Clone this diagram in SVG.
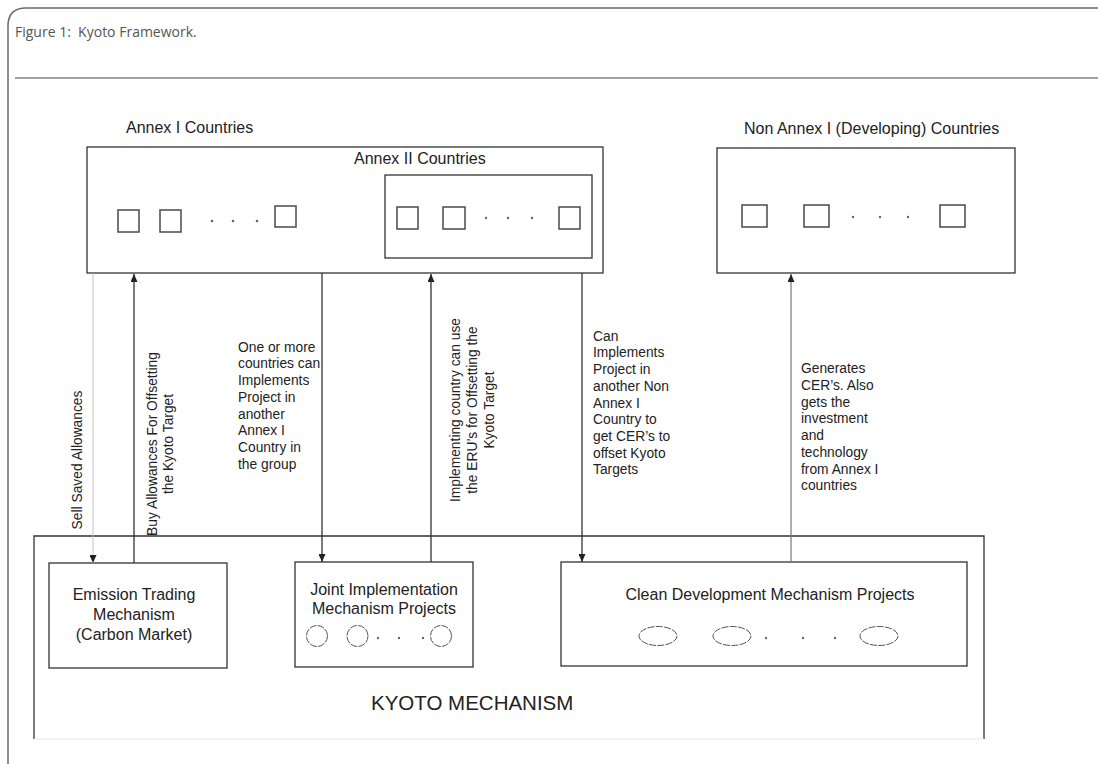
<svg xmlns="http://www.w3.org/2000/svg" width="1098" height="764" viewBox="0 0 1098 764">
  <style>
    .frame { fill: none; stroke: #6a6a6a; stroke-width: 1.5; }
    .rule { stroke: #444; stroke-width: 1.2; }
    .caption { font-family: "Open Sans", "Liberation Sans", sans-serif; font-size: 14px; fill: #555; }
    .box { fill: #fff; stroke: #333; stroke-width: 1.3; }
    .sq { fill: #fff; stroke: #4a4a4a; stroke-width: 1.5; }
    .proj { fill: none; stroke: #555; stroke-width: 1; stroke-dasharray: 7 1.3; }
    .dot { fill: #666; }
    .t { font-family: "Liberation Sans", Arial, sans-serif; fill: #222; }
    .hdr { font-size: 16px; }
    .lbl { font-size: 13.8px; }
    .title { font-size: 20.5px; }
    .conn { stroke: #333; stroke-width: 1.3; fill: none; }
    .faint { stroke: #c4c4c4; stroke-width: 1; }
    .soft { stroke: #777; stroke-width: 1.2; }
  </style>
  <defs>
    <marker id="arrow" viewBox="0 0 8 7" refX="8" refY="3.5" markerWidth="8" markerHeight="7" markerUnits="userSpaceOnUse" orient="auto">
      <path d="M0,0 L8,3.5 L0,7 z" fill="#222"/>
    </marker>
  </defs>

  <!-- page frame and caption -->
  <rect width="1098" height="764" fill="#fff"/>
  <path class="frame" d="M8,764 V26 Q8,8 26,8 H1098"/>
  <text class="caption" x="15" y="37" xml:space="preserve">Figure 1:  Kyoto Framework.</text>
  <line class="rule" x1="15" y1="78" x2="1098" y2="78"/>

  <!-- Kyoto mechanism container -->
  <g id="kyoto-mechanism">
    <rect x="34" y="536" width="950" height="203" fill="#fff"/>
    <path d="M34,739 V536 H984 V739" fill="none" stroke="#333" stroke-width="1.3"/>
    <line x1="34" y1="739" x2="984" y2="739" stroke="#e6e6e6" stroke-width="1.2"/>
    <text class="t title" x="371" y="710">KYOTO MECHANISM</text>
  </g>

  <!-- Annex I countries -->
  <g id="annex-1">
    <text class="t hdr" x="126" y="133">Annex I Countries</text>
    <rect class="box" x="87" y="147" width="516" height="126"/>
    <rect class="sq" x="118" y="210" width="21" height="22"/>
    <rect class="sq" x="160" y="210" width="21" height="22"/>
    <circle class="dot" cx="212" cy="221" r="1.3"/>
    <circle class="dot" cx="233" cy="221" r="1.3"/>
    <circle class="dot" cx="257" cy="221" r="1.3"/>
    <rect class="sq" x="275" y="206" width="21" height="21"/>
  </g>

  <!-- Annex II countries, nested in Annex I -->
  <g id="annex-2">
    <text class="t hdr" x="354" y="164">Annex II Countries</text>
    <rect class="box" x="385" y="175" width="207" height="83"/>
    <rect class="sq" x="397" y="207" width="21" height="22"/>
    <rect class="sq" x="443" y="207" width="22" height="22"/>
    <circle class="dot" cx="486" cy="218" r="1.2"/>
    <circle class="dot" cx="508" cy="218" r="1.2"/>
    <circle class="dot" cx="532" cy="218" r="1.2"/>
    <rect class="sq" x="559" y="207" width="21" height="22"/>
  </g>

  <!-- Non Annex I countries -->
  <g id="non-annex-1">
    <text class="t hdr" x="744" y="134">Non Annex I (Developing) Countries</text>
    <rect class="box" x="717" y="148" width="298" height="125"/>
    <rect class="sq" x="742" y="205" width="25" height="22"/>
    <rect class="sq" x="804" y="205" width="25" height="22"/>
    <circle class="dot" cx="853" cy="217" r="1.2"/>
    <circle class="dot" cx="880" cy="217" r="1.2"/>
    <circle class="dot" cx="908" cy="217" r="1.2"/>
    <rect class="sq" x="940" y="205" width="25" height="22"/>
  </g>

  <!-- Emission trading -->
  <g id="emission-trading">
    <rect class="box" x="49" y="563" width="178" height="105"/>
    <text class="t hdr" text-anchor="middle" x="134" y="599.5">Emission Trading</text>
    <text class="t hdr" text-anchor="middle" x="134" y="619.5">Mechanism</text>
    <text class="t hdr" text-anchor="middle" x="134" y="639.5">(Carbon Market)</text>
  </g>

  <!-- Joint implementation -->
  <g id="joint-implementation">
    <rect class="box" x="295" y="562" width="178" height="105"/>
    <text class="t hdr" text-anchor="middle" x="384" y="595">Joint Implementation</text>
    <text class="t hdr" text-anchor="middle" x="384" y="614">Mechanism Projects</text>
    <circle class="proj" cx="317" cy="636" r="10.5"/>
    <circle class="proj" cx="357.5" cy="636" r="10.5"/>
    <circle class="dot" cx="378" cy="638" r="1.2"/>
    <circle class="dot" cx="399" cy="638" r="1.2"/>
    <circle class="dot" cx="423" cy="638" r="1.2"/>
    <circle class="proj" cx="441" cy="636" r="10.5"/>
  </g>

  <!-- Clean development mechanism -->
  <g id="clean-development">
    <rect class="box" x="561" y="562" width="406" height="104"/>
    <text class="t hdr" text-anchor="middle" x="770" y="600">Clean Development Mechanism Projects</text>
    <ellipse class="proj" cx="658" cy="636" rx="19" ry="9.5"/>
    <ellipse class="proj" cx="732" cy="636" rx="19" ry="9.5"/>
    <circle class="dot" cx="766" cy="638" r="1.2"/>
    <circle class="dot" cx="803" cy="638" r="1.2"/>
    <circle class="dot" cx="835" cy="638" r="1.2"/>
    <ellipse class="proj" cx="879" cy="636" rx="19" ry="9.5"/>
  </g>

  <!-- connectors and their labels -->
  <g id="connectors">
    <line class="conn faint" x1="93" y1="273" x2="93" y2="563" marker-end="url(#arrow)"/>
    <line class="conn" x1="134" y1="563" x2="134" y2="274" marker-end="url(#arrow)"/>
    <line class="conn" x1="322" y1="273" x2="322" y2="562" marker-end="url(#arrow)"/>
    <line class="conn" x1="431" y1="562" x2="431" y2="274" marker-end="url(#arrow)"/>
    <line class="conn" x1="582" y1="273" x2="582" y2="562" marker-end="url(#arrow)"/>
    <line class="conn soft" x1="791" y1="562" x2="791" y2="274" marker-end="url(#arrow)"/>

    <text class="t lbl" text-anchor="middle" transform="translate(81.5,460) rotate(-90)">Sell Saved Allowances</text>

    <text class="t lbl" text-anchor="middle" transform="translate(156.5,444) rotate(-90)">Buy Allowances For Offsetting</text>
    <text class="t lbl" text-anchor="middle" transform="translate(172.5,444) rotate(-90)">the Kyoto Target</text>

    <text class="t lbl">
      <tspan x="238" y="351.7">One or more</tspan>
      <tspan x="238" y="368.4">countries can</tspan>
      <tspan x="238" y="385.1">Implements</tspan>
      <tspan x="238" y="401.8">Project in</tspan>
      <tspan x="238" y="418.5">another</tspan>
      <tspan x="238" y="435.2">Annex I</tspan>
      <tspan x="238" y="451.9">Country in</tspan>
      <tspan x="238" y="468.6">the group</tspan>
    </text>

    <text class="t lbl" text-anchor="middle" transform="translate(460,410) rotate(-90)">Implementing country can use</text>
    <text class="t lbl" text-anchor="middle" transform="translate(477,410) rotate(-90)">the ERU’s for Offsetting the</text>
    <text class="t lbl" text-anchor="middle" transform="translate(494,410) rotate(-90)">Kyoto Target</text>

    <text class="t lbl">
      <tspan x="593" y="340.7">Can</tspan>
      <tspan x="593" y="357.4">Implements</tspan>
      <tspan x="593" y="374.1">Project in</tspan>
      <tspan x="593" y="390.8">another Non</tspan>
      <tspan x="593" y="407.5">Annex I</tspan>
      <tspan x="593" y="424.2">Country to</tspan>
      <tspan x="593" y="440.9">get CER’s to</tspan>
      <tspan x="593" y="457.6">offset Kyoto</tspan>
      <tspan x="593" y="474.3">Targets</tspan>
    </text>

    <text class="t lbl">
      <tspan x="801" y="373.3">Generates</tspan>
      <tspan x="801" y="390">CER’s. Also</tspan>
      <tspan x="801" y="406.7">gets the</tspan>
      <tspan x="801" y="423.4">investment</tspan>
      <tspan x="801" y="440.1">and</tspan>
      <tspan x="801" y="456.8">technology</tspan>
      <tspan x="801" y="473.5">from Annex I</tspan>
      <tspan x="801" y="490.2">countries</tspan>
    </text>
  </g>
</svg>
